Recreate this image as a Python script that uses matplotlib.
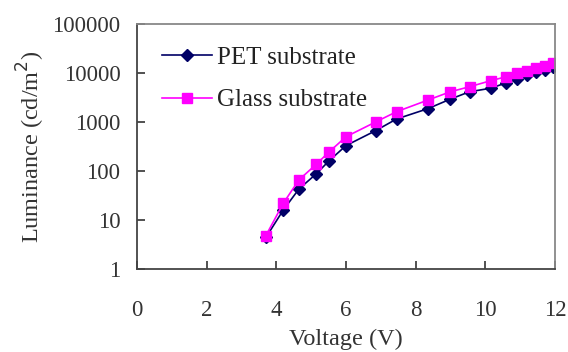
import numpy as np
import matplotlib
matplotlib.use("Agg")
import matplotlib.pyplot as plt

voltage = [3.7, 4.2, 4.65, 5.15, 5.5, 6.0, 6.85, 7.45, 8.35, 9.0, 9.55, 10.15,
           10.6, 10.9, 11.2, 11.45, 11.7, 11.95]
pet = [4.4, 16, 43, 88, 158, 330, 665, 1150, 1870, 2940, 4150, 4880,
       6300, 7550, 9100, 10300, 11500, 13400]
glass = [4.8, 22, 66, 138, 240, 500, 1000, 1620, 2800, 4150, 5250, 6950,
         8400, 9850, 11200, 12500, 14200, 15700]

xticks = [0, 2, 4, 6, 8, 10, 12]
yticks = [1, 10, 100, 1000, 10000, 100000]

plt.rcParams['font.family'] = ['Liberation Serif', 'DejaVu Serif']

fig = plt.figure(figsize=(5.68, 3.52), dpi=100)
ax = fig.add_subplot(111)
fig.subplots_adjust(left=137/568, right=555/568, top=1-24/352, bottom=1-269/352)

ax.plot(voltage, pet, color='#000066', marker='D', markersize=6.5, lw=1.2,
        label='PET substrate')
ax.plot(voltage, glass, color='#ff00ff', marker='s', markersize=7, lw=1.2,
        label='Glass substrate')

ax.set_yscale('log')
ax.set_xlim(0, 12)
ax.set_ylim(1, 100000)
ax.set_xticks(xticks)
ax.set_xticklabels([str(v) for v in xticks])
ax.set_yticks(yticks)
ax.set_yticklabels([str(v) for v in yticks])
ax.yaxis.set_minor_locator(matplotlib.ticker.NullLocator())

ax.tick_params(axis='x', direction='in', length=6, pad=22, labelsize=16.5,
               colors='#333333', width=1.2)
ax.tick_params(axis='y', direction='in', length=6, pad=12, labelsize=16.5,
               colors='#333333', width=1.2)
for s in ax.spines.values():
    s.set_color('#444444')
    s.set_linewidth(1.3)
ax.spines['top'].set_color('#888888')
ax.spines['right'].set_color('#888888')

ax.set_xlabel('Voltage (V)', fontsize=17.5, color='#333333', labelpad=6)
ax.set_ylabel('Luminance (cd/m$^2$)', fontsize=17.5, color='#333333', labelpad=4)

ax.legend(loc='upper left', frameon=False, fontsize=18, handlelength=2.0,
          handletextpad=0.2, labelspacing=0.8, bbox_to_anchor=(0.005, 1.0),
          labelcolor='#222222')

fig.savefig('out.png', dpi=100)
